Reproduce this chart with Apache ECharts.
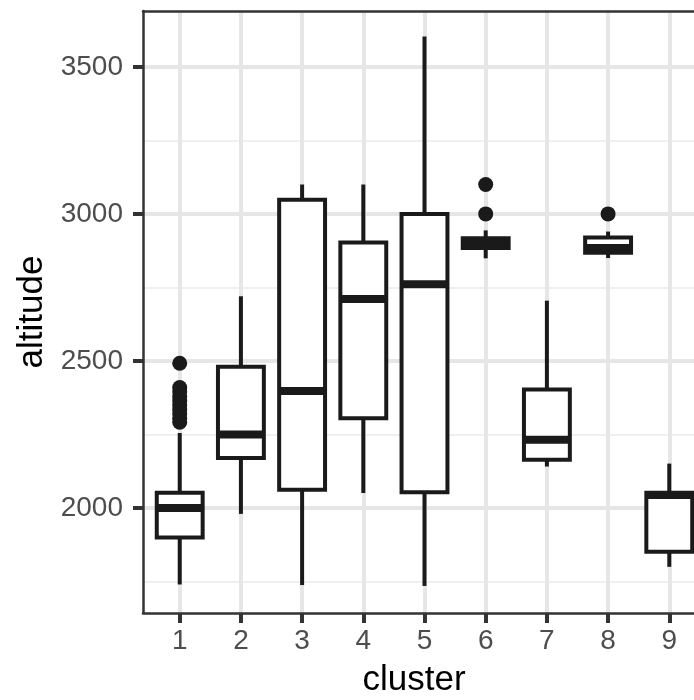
<!DOCTYPE html>
<html>
<head>
<meta charset="utf-8">
<script src="https://cdn.jsdelivr.net/npm/echarts@6/dist/echarts.min.js"></script>
<style>
  html, body { margin: 0; padding: 0; background: #fff; }
  #chart { width: 694px; height: 700px; }
</style>
</head>
<body>
<div id="chart"></div>
<script>
// data
var clusters = [1, 2, 3, 4, 5, 6, 7, 8, 9];
var whiskerLow  = [1740, 1980, 1738, 2051, 1735, 2849, 2141, 2850, 1800];
var q1          = [1900, 2170, 2062, 2305, 2054, 2884, 2164, 2868, 1851];
var median      = [2000, 2250, 2398, 2711, 2761, 2900, 2232, 2884, 2044];
var q3          = [2052, 2480, 3048, 2903, 3000, 2917, 2403, 2920, 2052];
var whiskerHigh = [2255, 2720, 3100, 3100, 3603, 2944, 2705, 2940, 2151];
// outliers: [cluster, altitude]
var outliers = [
  [1, 2292], [1, 2305], [1, 2320], [1, 2335], [1, 2350], [1, 2365],
  [1, 2380], [1, 2395], [1, 2410], [1, 2492],
  [6, 3000], [6, 3100],
  [8, 3000]
];
var yTicks = [2000, 2500, 3000, 3500];
var yMinor = [1750, 2250, 2750, 3250];

(function(){
    var myChart = echarts.init(document.getElementById('chart'));

    var boxData = clusters.map(function(c, i){
        return [c, whiskerLow[i], q1[i], median[i], q3[i], whiskerHigh[i]];
    });

    var ink = '#1a1a1a';
    var gridColor = '#e6e6e6';

    var option = {
        animation: false,
        backgroundColor: '#fff',
        textStyle: { fontFamily: 'Liberation Sans, Arial, sans-serif' },
        grid: {
            left: 143,
            right: -12,
            top: 11,
            bottom: 87,
            containLabel: false,
            outerBoundsMode: 'none'
        },
        xAxis: [
          {
            type: 'value',
            min: 0.4,
            max: 9.6,
            name: 'cluster',
            nameLocation: 'middle',
            nameGap: 50,
            nameTextStyle: { color: '#000', fontSize: 35, padding: [0, 21, 0, 0] },
            axisLine: { show: true, onZero: false, lineStyle: { color: '#333', width: 2.5 } },
            axisTick: { show: true, length: 10, customValues: clusters, lineStyle: { color: '#333', width: 4 } },
            axisLabel: { show: true, customValues: clusters, margin: 14, color: '#4d4d4d', fontSize: 28,
                         formatter: function(v){ return String(v); } },
            splitLine: { show: true, lineStyle: { color: gridColor, width: 4 } }
          },
          {
            //上边框
            type: 'value',
            position: 'top',
            min: 0.4,
            max: 9.6,
            axisLine: { show: true, onZero: false, lineStyle: { color: '#333', width: 2.5 } },
            axisTick: { show: false },
            axisLabel: { show: false },
            splitLine: { show: false }
          }
        ],
        yAxis: [
          {
            type: 'value',
            min: 1643,
            max: 3690,
            name: 'altitude',
            nameLocation: 'middle',
            nameRotate: 90,
            nameGap: 90,
            nameTextStyle: { color: '#000', fontSize: 35 },
            axisLine: { show: true, onZero: false, lineStyle: { color: '#333', width: 2.5 } },
            axisTick: { show: true, length: 10, customValues: yTicks, lineStyle: { color: '#333', width: 4 } },
            axisLabel: { show: true, customValues: yTicks, margin: 20, color: '#4d4d4d', fontSize: 28,
                         formatter: function(v){ return String(v); } },
            splitLine: { show: true, lineStyle: { color: gridColor, width: 4 } }
          },
          {
            //次网格线
            type: 'value',
            position: 'right',
            min: 1643,
            max: 3690,
            axisLine: { show: false },
            axisTick: { show: false, customValues: yMinor },
            axisLabel: { show: false },
            splitLine: { show: true, lineStyle: { color: '#efefef', width: 2 } }
          }
        ],
        series: [
          {
            name: 'box',
            type: 'custom',
            xAxisIndex: 0,
            yAxisIndex: 0,
            encode: { x: 0, y: [1, 2, 3, 4, 5] },
            data: boxData,
            z: 3,
            renderItem: function(params, api){
                var x = api.value(0);
                var lo = api.coord([x, api.value(1)]);
                var b1 = api.coord([x, api.value(2)]);
                var md = api.coord([x, api.value(3)]);
                var b3 = api.coord([x, api.value(4)]);
                var hi = api.coord([x, api.value(5)]);
                var hw = api.size([0.75, 0])[0] / 2;
                var cx = lo[0];
                var st = { stroke: ink, lineWidth: 4 };
                return {
                    type: 'group',
                    children: [
                        { type: 'line', shape: { x1: cx, y1: hi[1], x2: cx, y2: b3[1] }, style: st },
                        { type: 'line', shape: { x1: cx, y1: b1[1], x2: cx, y2: lo[1] }, style: st },
                        { type: 'rect', shape: { x: cx - hw, y: b3[1], width: hw * 2, height: b1[1] - b3[1] },
                          style: { fill: '#fff', stroke: ink, lineWidth: 4 } },
                        { type: 'line', shape: { x1: cx - hw, y1: md[1], x2: cx + hw, y2: md[1] },
                          style: { stroke: ink, lineWidth: 8 } }
                    ]
                };
            }
          },
          {
            name: 'outlier',
            type: 'scatter',
            xAxisIndex: 0,
            yAxisIndex: 0,
            symbol: 'circle',
            symbolSize: 15,
            itemStyle: { color: ink, opacity: 1 },
            z: 4,
            data: outliers
          }
        ]
    };

    myChart.setOption(option);

    window.addEventListener('resize', function(){
        myChart.resize();
    });
})();
</script>
</body>
</html>
